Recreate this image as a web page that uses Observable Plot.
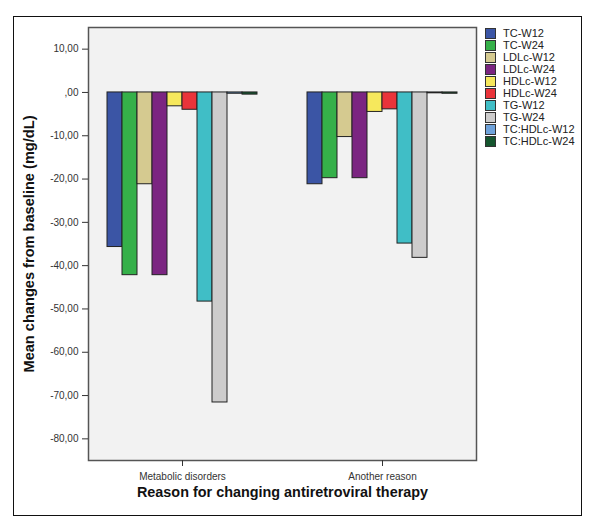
<!DOCTYPE html>
<html>
<head>
<meta charset="utf-8">
<script src="https://cdn.jsdelivr.net/npm/d3@7"></script>
<script src="https://cdn.jsdelivr.net/npm/@observablehq/plot@0.6"></script>
<style>
  body { margin: 0; background: #fff; font-family: "Liberation Sans", Arial, sans-serif; }
  #wrap { position: relative; width: 592px; height: 525px; }
  #border { position: absolute; left: 13px; top: 16px; width: 567px; height: 498px; border: 1.5px solid #111; pointer-events: none; }
  #legend { position: absolute; left: 485px; top: 27px; font-size: 11px; color: #222; }
  #legend .row { display: flex; align-items: center; height: 12px; }
  #legend .sw { width: 9px; height: 9px; border: 0.6px solid #333; margin-right: 7px; }
  g[aria-label="y-axis label"] text, g[aria-label="fx-axis label"] text { font-weight: bold; fill: #111; }
  g[aria-label="y-axis label"] text { font-size: 14.6px; }
  g[aria-label="fx-axis label"] text { font-size: 14.4px; }
</style>
</head>
<body>
<div id="wrap">
  <div id="chart"></div>
  <div id="legend"></div>
  <div id="border"></div>
</div>
<script>
const reasons = ["Metabolic disorders", "Another reason"];
const measures = ["TC-W12", "TC-W24", "LDLc-W12", "LDLc-W24", "HDLc-W12", "HDLc-W24", "TG-W12", "TG-W24", "TC:HDLc-W12", "TC:HDLc-W24"];
const metabolic = [-35.7, -42.2, -21.2, -42.2, -3.2, -4.0, -48.3, -71.6, -0.3, -0.5];
const another = [-21.2, -19.8, -10.3, -19.8, -4.5, -3.9, -34.9, -38.2, -0.2, -0.3];
const colors = ["#3b55a5", "#35b049", "#d5ca90", "#7b2581", "#f6e85c", "#e9343a", "#40bec6", "#cdcccc", "#6fa2da", "#15552e"];
const yTicks = [10, 0, -10, -20, -30, -40, -50, -60, -70, -80];

const data = [];
reasons.forEach((r, i) => {
  const vals = i === 0 ? metabolic : another;
  measures.forEach((m, j) => data.push({reason: r, measure: m, value: vals[j]}));
});

const fmt = d => d === 0 ? ",00" : d.toFixed(2).replace(".", ",");
const pad = 19; // gap between the frame and the outer bars

const chart = Plot.plot({
  width: 592,
  height: 525,
  marginTop: 27,
  marginBottom: 65,
  marginLeft: 107,
  marginRight: 135,
  style: {fontFamily: "'Liberation Sans', Arial, sans-serif", fontSize: "10px", color: "#333"},
  fx: {domain: reasons, paddingInner: 0.25, paddingOuter: 0},
  x: {domain: measures, padding: 0, axis: null},
  y: {domain: [-85, 15]},
  color: {domain: measures, range: colors},
  marks: [
    Plot.frame({facet: "super", fill: "#f2f2f2", stroke: "#555", strokeWidth: 1.5, insetLeft: -pad, insetRight: -pad}),
    Plot.barY(data, {fx: "reason", x: "measure", y: "value", fill: "measure", stroke: "#222", strokeWidth: 1}),
    Plot.axisY({ticks: yTicks, tickFormat: fmt, tickSize: 6, tickPadding: 4, fontSize: 10, dx: -pad,
      label: "Mean changes from baseline (mg/dL)", labelAnchor: "center", labelArrow: "none", labelOffset: 84}),
    Plot.axisFx({anchor: "bottom", tickSize: 6, tickPadding: 6, fontSize: 10,
      label: "Reason for changing antiretroviral therapy", labelAnchor: "center", labelArrow: "none", labelOffset: 36})
  ]
});
document.getElementById("chart").append(chart);

const legend = document.getElementById("legend");
measures.forEach((m, i) => {
  const row = document.createElement("div");
  row.className = "row";
  const sw = document.createElement("div");
  sw.className = "sw";
  sw.style.background = colors[i];
  const t = document.createElement("span");
  t.textContent = m;
  row.append(sw, t);
  legend.append(row);
});
</script>
</body>
</html>
